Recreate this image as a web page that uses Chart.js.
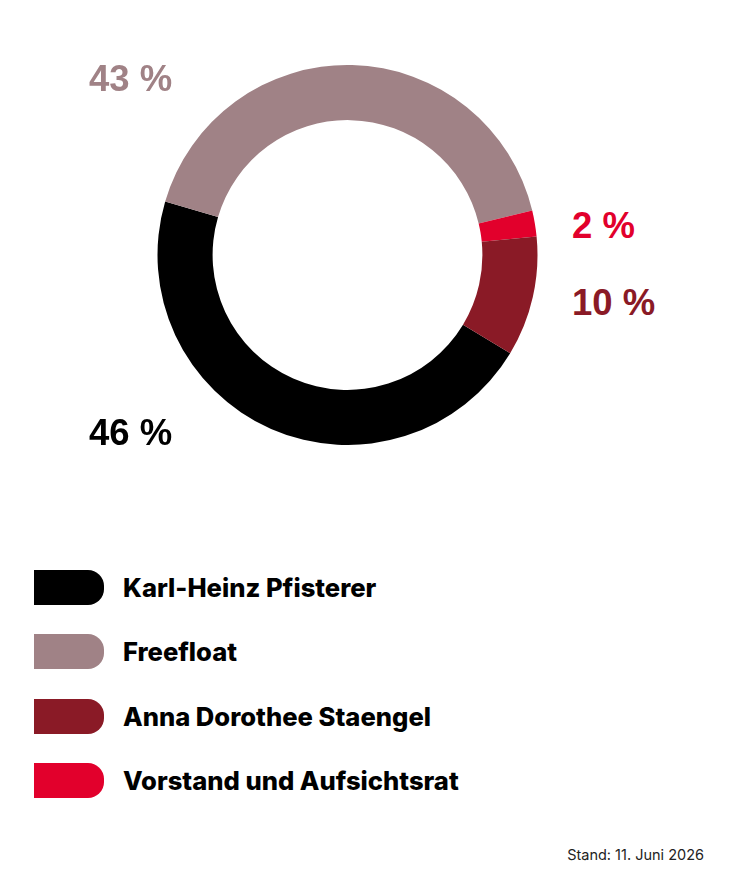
<!DOCTYPE html>
<html lang="de">
<head>
<meta charset="utf-8">
<title>Aktionärsstruktur</title>
<script src="https://cdn.jsdelivr.net/npm/chart.js@4.4.1/dist/chart.umd.min.js"></script>
<style>
  html, body {
    margin: 0;
    padding: 0;
    background: #ffffff;
  }
  .page {
    position: relative;
    width: 750px;
    height: 896px;
    overflow: hidden;
  }
  .chart-box {
    position: absolute;
    left: 157px;
    top: 65px;
    width: 381px;
    height: 380px;
  }
  .pct {
    position: absolute;
    font-family: "Liberation Sans", Arial, sans-serif;
    font-weight: 700;
    font-size: 36.5px;
    line-height: 36px;
    white-space: nowrap;
  }
  .legend {
    position: absolute;
    left: 34px;
    top: 570px;
    display: flex;
    flex-direction: column;
    gap: 29.3px;
  }
  .legend-row {
    display: flex;
    align-items: center;
    height: 35px;
  }
  .swatch {
    width: 70px;
    height: 35px;
    border-radius: 0 16px 16px 0;
    margin-right: 19px;
  }
  .legend-text {
    font-family: Inter, "DejaVu Sans", sans-serif;
    font-weight: 800;
    font-size: 25.6px;
    line-height: 35px;
    color: #000000;
    white-space: nowrap;
  }
  .stand {
    position: absolute;
    right: 46px;
    top: 846px;
    font-family: Inter, "DejaVu Sans", sans-serif;
    font-size: 14.5px;
    line-height: 17px;
    color: #222222;
  }
</style>
</head>
<body>
<div class="page" id="page">
  <div class="chart-box"><canvas id="shareChart"></canvas></div>
  <div class="legend" id="legend"></div>
  <div class="stand">Stand: 11. Juni 2026</div>
</div>

<script>
// shareholders, in legend order
const holders = ["Karl-Heinz Pfisterer", "Freefloat", "Anna Dorothee Staengel", "Vorstand und Aufsichtsrat"];
// share as drawn in the ring (percent)
const shares = [45.9, 41.7, 10.2, 2.2];
// rounded values printed next to the ring
const shareLabels = [46, 43, 10, 2];
const colors = ["#000000", "#a08286", "#8a1a26", "#e2002c"];
// order the slices go round the ring (clockwise)
const ringOrder = [0, 1, 3, 2];
// where the printed values sit on the page
const labelLeft = [89, 89, 572, 572];
const labelBaseline = [446, 92, 316, 239];

let page = document.getElementById("page");

// percentage labels
for (let i = 0; i < holders.length; i++) {
  let myLabel = document.createElement("div");
  myLabel.classList.add("pct");
  myLabel.style.left = labelLeft[i] + "px";
  myLabel.style.top = (labelBaseline[i] - 30.7) + "px";
  myLabel.style.color = colors[i];
  myLabel.textContent = shareLabels[i] + " %";
  page.appendChild(myLabel);
}

// legend
let legendDiv = document.getElementById("legend");
for (let i = 0; i < holders.length; i++) {
  let myRow = document.createElement("div");
  myRow.classList.add("legend-row");

  let mySwatch = document.createElement("span");
  mySwatch.classList.add("swatch");
  mySwatch.style.background = colors[i];
  myRow.appendChild(mySwatch);

  let myText = document.createElement("span");
  myText.classList.add("legend-text");
  myText.textContent = holders[i];
  myRow.appendChild(myText);

  legendDiv.appendChild(myRow);
}

// draw the ring
let ctx = document.getElementById("shareChart").getContext("2d");
let chart = new Chart(ctx, {
  type: "doughnut",
  data: {
    labels: ringOrder.map(i => holders[i]),
    datasets: [
      {
        data: ringOrder.map(i => shares[i]),
        backgroundColor: ringOrder.map(i => colors[i]),
        borderWidth: 0,
        hoverOffset: 0
      }
    ]
  },
  options: {
    responsive: true,
    maintainAspectRatio: false,
    animation: false,
    cutout: "71%",
    rotation: 121.1,
    layout: { padding: 0 },
    plugins: {
      legend: { display: false },
      tooltip: { enabled: false }
    }
  }
});
</script>
</body>
</html>
